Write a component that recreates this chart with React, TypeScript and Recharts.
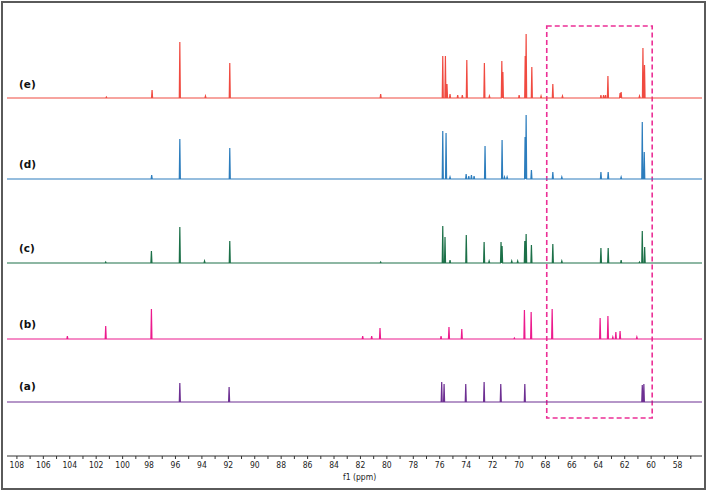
import React from 'react';
import { LineChart, Line, XAxis, YAxis, ReferenceArea } from 'recharts';

// peak lists: [shift in ppm, intensity]
const peaksE: [number, number][] = [
  [101.23, 1], [97.77, 8], [95.67, 56], [93.73, 2], [91.89, 35], [80.47, 4],
  [75.77, 42], [75.57, 42], [75.45, 14], [75.22, 4], [74.64, 3], [74.29, 3],
  [73.95, 38], [72.62, 35], [72.24, 2], [71.3, 37], [71.22, 26], [69.99, 3],
  [69.53, 42], [69.46, 64], [69.03, 31], [68.33, 2], [67.44, 14], [66.71, 2],
  [63.8, 3], [63.6, 3], [63.45, 3], [63.27, 22], [62.35, 5], [62.27, 6],
  [60.88, 2], [60.62, 50], [60.5, 33],
];
const peaksD: [number, number][] = [
  [97.8, 4], [95.67, 40], [91.89, 31], [75.77, 48], [75.52, 46], [75.22, 2],
  [74.0, 5], [73.8, 3], [73.6, 4], [73.4, 3], [72.57, 33], [71.28, 39],
  [71.1, 2], [70.9, 2], [69.54, 42], [69.46, 64], [69.06, 9], [67.44, 7],
  [66.76, 2], [63.8, 7], [63.25, 7], [62.27, 2], [60.67, 57], [60.52, 27],
];
const peaksC: [number, number][] = [
  [101.28, 1], [97.82, 12], [95.67, 36], [93.8, 2], [91.89, 22], [80.47, 1],
  [75.77, 37], [75.6, 26], [75.22, 3], [73.99, 28], [72.64, 21], [72.26, 2],
  [71.36, 21], [71.28, 17], [70.55, 2], [70.1, 2], [69.56, 22], [69.46, 29],
  [69.06, 18], [67.44, 19], [66.76, 2], [63.8, 15], [63.25, 15], [62.27, 3],
  [60.88, 1], [60.67, 32], [60.49, 16],
];
const peaksB: [number, number][] = [
  [104.18, 3], [101.28, 13], [97.82, 30], [81.83, 3], [81.15, 3], [80.52, 11],
  [75.9, 3], [75.3, 12], [74.33, 10], [70.35, 1], [69.59, 29], [69.08, 27],
  [67.49, 30], [63.86, 21], [63.27, 23], [62.9, 2], [62.67, 7], [62.35, 8],
  [61.08, 2],
];
const peaksA: [number, number][] = [
  [95.67, 19], [91.94, 15], [75.85, 20], [75.67, 18], [74.03, 18], [72.64, 20],
  [71.38, 18], [69.56, 18], [60.67, 17], [60.55, 18],
];

const spectraNames = ['(e)', '(d)', '(c)', '(b)', '(a)'];
const spectraPeaks = [peaksE, peaksD, peaksC, peaksB, peaksA];

const xTicks = [
  108, 107, 106, 105, 104, 103, 102, 101, 100, 99, 98, 97, 96, 95, 94, 93, 92,
  91, 90, 89, 88, 87, 86, 85, 84, 83, 82, 81, 80, 79, 78, 77, 76, 75, 74, 73,
  72, 71, 70, 69, 68, 67, 66, 65, 64, 63, 62, 61, 60, 59, 58, 57,
];

// highlighted region (ppm)
const boxFrom = 67.9;
const boxTo = 59.92;

const X_MIN = 56.15;
const X_MAX = 108.75;
const PLOT_H = 446;

const colors = ['#f04a40', '#2c7dbd', '#1c7048', '#ec1a8d', '#6d2f92'];
// pixel offset of each baseline above the axis
const lifts = [358, 277, 193, 117, 54];
const labelTops = [78, 158, 242, 318, 380];

const HALF_W = 0.04;

function buildTrace(peaks: [number, number][]) {
  const sorted = [...peaks].sort((a, b) => b[0] - a[0]);
  const pts: { ppm: number; v: number }[] = [{ ppm: X_MAX, v: 0 }];
  sorted.forEach(([p, h]) => {
    pts.push({ ppm: p + HALF_W, v: 0 });
    pts.push({ ppm: p, v: h });
    pts.push({ ppm: p - HALF_W, v: 0 });
  });
  pts.push({ ppm: X_MIN, v: 0 });
  return pts;
}

const traces = spectraPeaks.map(buildTrace);

export default function App() {
  return (
    <div style={{ position: 'absolute', left: 0, top: 0, width: 709, height: 492, background: '#fff', fontFamily: '"DejaVu Sans", sans-serif' }}>
      <div style={{ position: 'absolute', left: 1, top: 1, width: 701, height: 485, border: '2px solid #5a5a5a' }} />
      <LineChart
        width={709}
        height={492}
        margin={{ top: 10, right: 7, bottom: 6, left: 7 }}
        style={{ position: 'absolute', left: 0, top: 0 }}
      >
        <XAxis
          type="number"
          dataKey="ppm"
          domain={[X_MIN, X_MAX]}
          reversed
          allowDataOverflow
          ticks={xTicks}
          interval={0}
          height={30}
          tickSize={3}
          tickMargin={3}
          stroke="#333"
          tick={{ fontSize: 8.5, fill: '#222', fontFamily: '"DejaVu Sans Condensed", "DejaVu Sans", sans-serif' }}
          tickFormatter={(v: number) => (v % 2 === 0 ? String(v) : '')}
        />
        {lifts.map((lift, i) => (
          <YAxis key={i} yAxisId={'s' + i} hide domain={[-lift, PLOT_H - lift]} allowDataOverflow />
        ))}
        {traces.map((t, i) => (
          <Line
            key={i}
            yAxisId={'s' + i}
            data={t}
            dataKey="v"
            type="linear"
            stroke={colors[i]}
            strokeWidth={1.2}
            dot={false}
            isAnimationActive={false}
          />
        ))}
        <ReferenceArea
          yAxisId="s0"
          x1={boxFrom}
          x2={boxTo}
          y1={-320}
          y2={72}
          fill="none"
          fillOpacity={0}
          stroke="#ec2f96"
          strokeWidth={1.6}
          strokeDasharray="5 3"
          ifOverflow="visible"
        />
      </LineChart>
      {spectraNames.map((n, i) => (
        <div
          key={n}
          style={{ position: 'absolute', left: 19, top: labelTops[i], fontSize: 10.5, fontWeight: 'bold', color: '#111' }}
        >
          {n}
        </div>
      ))}
      <div style={{ position: 'absolute', left: 343, top: 472, fontSize: 8.5, color: '#222', fontFamily: '"DejaVu Sans Condensed", "DejaVu Sans", sans-serif' }}>
        f1 (ppm)
      </div>
    </div>
  );
}
